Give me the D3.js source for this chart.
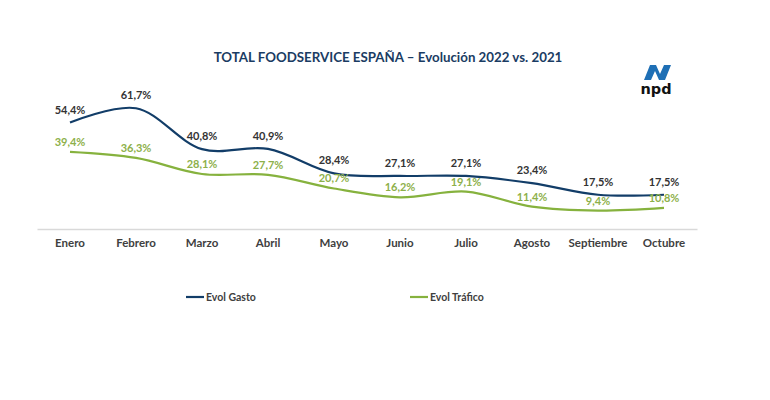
<!DOCTYPE html>
<html><head><meta charset="utf-8">
<script src="https://cdn.jsdelivr.net/npm/d3@7"></script>
<style>body{margin:0;background:#fff}svg{display:block}</style>
</head><body>
<svg id="c" width="770" height="400"></svg>
<script>
const categories = ["Enero","Febrero","Marzo","Abril","Mayo","Junio","Julio","Agosto","Septiembre","Octubre"];
const gasto = [54.4,61.7,40.8,40.9,28.4,27.1,27.1,23.4,17.5,17.5];
const trafico = [39.4,36.3,28.1,27.7,20.7,16.2,19.1,11.4,9.4,10.8];
const seriesNames = ["Evol Gasto","Evol Tráfico"];
const title = "TOTAL FOODSERVICE ESPAÑA – Evolución 2022 vs. 2021";

const svg = d3.select("#c");
const font = "Lato, 'Open Sans', sans-serif";
const navy = "#123d68", green = "#86b23e";

const x = d3.scaleBand().domain(categories).range([37, 697]);
const y = d3.scaleLinear().domain([0, 70]).range([229, 92]);
const cx = d => x(d) + x.bandwidth()/2;

svg.append("text").attr("x", 388).attr("y", 62).attr("text-anchor","middle")
  .attr("font-family", font).attr("font-weight", 700).attr("font-size", 13.3)
  .attr("fill", "#1a3c63").text(title);

// axis
const ax = svg.append("g").attr("transform","translate(0,229)")
  .call(d3.axisBottom(x).tickSize(0).tickPadding(10));
ax.select(".domain").attr("stroke","#d9d9d9").attr("stroke-width",1.5);
ax.selectAll("text").attr("font-family", font).attr("font-weight",700)
  .attr("font-size", 11.5).attr("fill","#404040");

const line = d3.line().x((d,i)=>cx(categories[i])).y(d=>y(d)).curve(d3.curveCatmullRom.alpha(0.5));
svg.append("path").attr("d", line(gasto)).attr("fill","none").attr("stroke",navy).attr("stroke-width",2.2);
svg.append("path").attr("d", line(trafico)).attr("fill","none").attr("stroke",green).attr("stroke-width",2.2);

const fmt = v => v.toFixed(1).replace(".", ",") + "%";
svg.selectAll(".lg").data(gasto).join("text")
  .attr("x",(d,i)=>cx(categories[i])).attr("y",d=>y(d)-9).attr("text-anchor","middle")
  .attr("font-family",font).attr("font-weight",700).attr("font-size",11).attr("fill","#333")
  .text(fmt);
svg.selectAll(".lt").data(trafico).join("text")
  .attr("x",(d,i)=>cx(categories[i])).attr("y",d=>y(d)-6).attr("text-anchor","middle")
  .attr("font-family",font).attr("font-weight",700).attr("font-size",11).attr("fill","#8db04a")
  .text(fmt);

// legend
const legX = [186, 410];
[navy, green].forEach((col,i)=>{
  svg.append("line").attr("x1",legX[i]).attr("x2",legX[i]+18).attr("y1",297).attr("y2",297)
    .attr("stroke",col).attr("stroke-width",2.2);
  svg.append("text").attr("x",legX[i]+20).attr("y",301).attr("font-family",font)
    .attr("font-weight",700).attr("font-size",10.5).attr("fill","#404040").text(seriesNames[i]);
});

// logo
const lg = svg.append("g").attr("transform","translate(640,63)");
lg.append("path").attr("d","M4,17 L10,2 L16,2 L20,11 L24,2 L31,2 L25,17 L19,17 L15,8 L11,17 Z").attr("fill","#1e6fb5");
lg.append("text").attr("x",16).attr("y",31).attr("text-anchor","middle").attr("font-family","'DejaVu Sans', sans-serif")
  .attr("font-weight",700).attr("font-size",14.5).attr("fill","#111").text("npd");
</script>
</body></html>
